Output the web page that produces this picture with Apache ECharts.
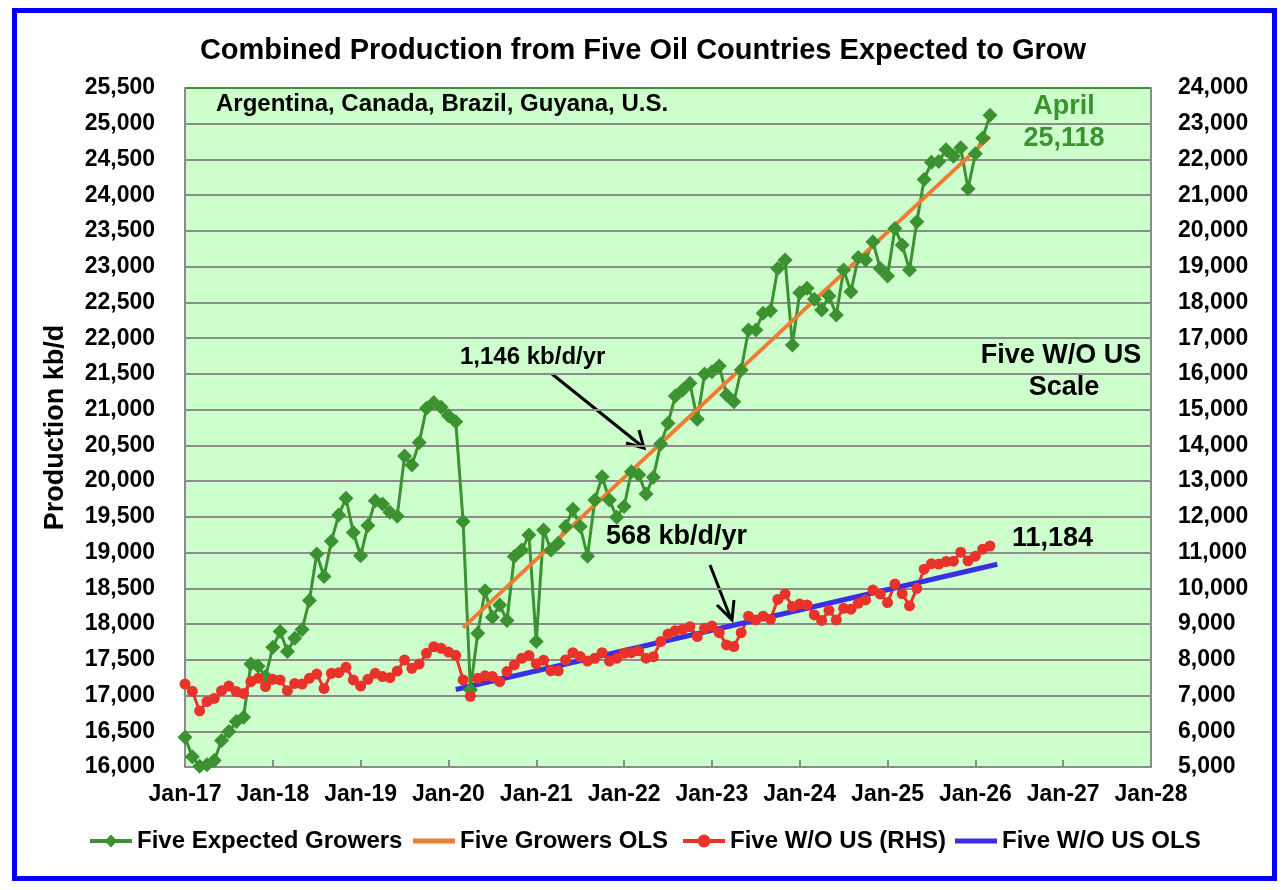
<!DOCTYPE html>
<html>
<head>
<meta charset="utf-8">
<title>Combined Production from Five Oil Countries Expected to Grow</title>
<script src="https://cdn.jsdelivr.net/npm/echarts@6/dist/echarts.min.js"></script>
<style>
html, body { margin: 0; padding: 0; background: #fff; }
#charts { position: absolute; left: 0; top: 0; width: 1286px; height: 890px; }
#frame { position: absolute; left: 12px; top: 8px; width: 1265px; height: 873px; box-sizing: border-box; border: 5px solid #0000ff; pointer-events: none; }
</style>
</head>
<body>
<div id="charts"></div>
<div id="frame"></div>
<script>
// x axis: months counted from Jan-17, one label per January
var xLabels = ['Jan-17', 'Jan-18', 'Jan-19', 'Jan-20', 'Jan-21', 'Jan-22', 'Jan-23', 'Jan-24', 'Jan-25', 'Jan-26', 'Jan-27', 'Jan-28'];

// Five Expected Growers, kb/d, monthly from Jan-17 (left axis)
var growers = [
	16415, 16145, 16010, 16030, 16090, 16370, 16495, 16635, 16695, 17440, 17410, 17265,
	17675, 17895, 17615, 17800, 17925, 18330, 18980, 18665, 19160, 19525, 19760, 19280,
	18955, 19380, 19725, 19680, 19565, 19510, 20350, 20225, 20540, 21020, 21100, 21035,
	20915, 20830, 19435, 17080, 17870, 18465, 18095, 18265, 18050, 18945, 19035, 19245,
	17755, 19315, 19035, 19130, 19365, 19605, 19365, 18950, 19735, 20060, 19735, 19495,
	19645, 20130, 20090, 19820, 20055, 20520, 20810, 21190, 21275, 21370, 20865, 21500,
	21530, 21610, 21205, 21110, 21555, 22115, 22115, 22350, 22385, 22975, 23095, 21905,
	22635, 22700, 22545, 22395, 22590, 22325, 22955, 22650, 23130, 23095, 23350, 22975,
	22870, 23535, 23305, 22955, 23630, 24220, 24460, 24470, 24635, 24545, 24665, 24090,
	24580, 24800, 25118
];

// Five W/O US, kb/d, monthly from Jan-17 (right axis)
var withoutUS = [
	7320, 7120, 6570, 6830, 6920, 7135, 7265, 7110, 7060, 7390, 7480, 7250,
	7455, 7435, 7135, 7340, 7320, 7480, 7600, 7200, 7620, 7640, 7790, 7435,
	7265, 7455, 7620, 7530, 7500, 7685, 7995, 7760, 7880, 8180, 8365, 8320,
	8215, 8125, 7435, 6980, 7480, 7550, 7530, 7390, 7670, 7855, 8040, 8120,
	7890, 7990, 7690, 7690, 7995, 8200, 8090, 7965, 8040, 8200, 7965, 8040,
	8180, 8200, 8250, 8045, 8085, 8510, 8720, 8815, 8850, 8925, 8650, 8880,
	8945, 8760, 8415, 8370, 8760, 9220, 9115, 9220, 9135, 9690, 9840, 9490,
	9560, 9535, 9255, 9100, 9385, 9115, 9440, 9415, 9580, 9675, 9950, 9840,
	9600, 10120, 9850, 9510, 10000, 10535, 10690, 10680, 10750, 10760, 11010, 10770,
	10900, 11095, 11184
];

// trend lines, end points (month index, value)
var growOlsMonths = [38, 110];
var growOlsValues = [17950, 24820];
var exUsOlsMonths = [37, 111];
var exUsOlsValues = [7170, 10675];

var FONT = '"Liberation Sans", Arial, sans-serif';
var GREEN = '#3c9130';
var ORANGE = '#ed7d31';
var RED = '#e9332a';
var BLUE = '#3a2fe3';
var GRID = '#8c8c8c';

function pairs(xs, ys){
	var out = [];
	for(var i = 0; i < ys.length; i++){
		out.push([xs ? xs[i] : i, ys[i]]);
	}
	return out;
}

function thousands(v){
	return Number(v).toLocaleString('en-US');
}

// top gridline is green, the rest grey
var splitColors = [];
for(var i = 0; i < 19; i++){
	splitColors.push(GRID);
}
splitColors.push(GREEN);

var labelStyle = {fontFamily: FONT, fontSize: 23, fontWeight: 'bold', color: '#000'};
var legendText = {fontFamily: FONT, fontSize: 24, fontWeight: 'bold', color: '#000'};

function legendAt(name, left, plainLine){
	var item = plainLine ? {name: name, icon: 'rect'} : {name: name};
	return {
		data: [item], left: left, top: 829, padding: 0,
		itemWidth: 42, itemHeight: plainLine ? 5 : 16, selectedMode: false,
		lineStyle: {width: 4},
		textStyle: legendText
	};
}

function note(text, x, y, size, color, align){
	return {
		type: 'text', x: x, y: y,
		style: {text: text, font: 'bold ' + size + 'px ' + FONT, fill: color || '#000', textAlign: align || 'left', textVerticalAlign: 'middle'}
	};
}

function stroke(points){
	return {type: 'polyline', shape: {points: points}, style: {stroke: '#000', lineWidth: 3, fill: null}};
}

var myChart = echarts.init(document.getElementById('charts'));

var option = {
	animation: false,
	backgroundColor: '#fff',
	title: {
		text: 'Combined Production from Five Oil Countries Expected to Grow',
		left: 'center', top: 31,
		textStyle: {fontFamily: FONT, fontSize: 29, fontWeight: 'bold', color: '#000'}
	},
	grid: {
		left: 185, right: 135, top: 88, bottom: 123,
		show: true, backgroundColor: '#ccffcc', borderWidth: 0,
		containLabel: false, outerBoundsMode: 'none'
	},
	legend: [
		legendAt('Five Expected Growers', 88, false),
		legendAt('Five Growers OLS', 413, true),
		legendAt('Five W/O US (RHS)', 681, false),
		legendAt('Five W/O US OLS', 955, true)
	],
	xAxis: {
		type: 'value', min: 0, max: 132, interval: 12,
		axisLine: {onZero: false, lineStyle: {color: GRID, width: 2}},
		axisTick: {inside: true, length: 7, lineStyle: {color: GRID, width: 2}},
		axisLabel: Object.assign({margin: 16, formatter: function(v){ return xLabels[Math.round(v / 12)]; }}, labelStyle),
		splitLine: {show: false}
	},
	yAxis: [{
		type: 'value', min: 16000, max: 25500, interval: 500, position: 'left',
		name: 'Production kb/d', nameLocation: 'middle', nameGap: 116,
		nameTextStyle: {fontFamily: FONT, fontSize: 27, fontWeight: 'bold', color: '#000'},
		axisLine: {show: true, lineStyle: {color: GRID, width: 2}},
		axisTick: {show: false},
		axisLabel: Object.assign({margin: 30, formatter: thousands}, labelStyle),
		splitLine: {show: true, lineStyle: {color: splitColors, width: 2}}
	}, {
		type: 'value', min: 5000, max: 24000, interval: 1000, position: 'right',
		axisLine: {show: true, lineStyle: {color: GRID, width: 2}},
		axisTick: {show: false},
		axisLabel: Object.assign({margin: 27, formatter: thousands}, labelStyle),
		splitLine: {show: false}
	}],
	series: [{
		name: 'Five Expected Growers', type: 'line',
		data: pairs(null, growers),
		symbol: 'diamond', symbolSize: 15,
		lineStyle: {color: GREEN, width: 3},
		itemStyle: {color: GREEN}
	}, {
		name: 'Five Growers OLS', type: 'line',
		data: pairs(growOlsMonths, growOlsValues),
		symbol: 'none',
		lineStyle: {color: ORANGE, width: 4},
		itemStyle: {color: ORANGE}
	}, {
		name: 'Five W/O US (RHS)', type: 'line', yAxisIndex: 1,
		data: pairs(null, withoutUS),
		symbol: 'circle', symbolSize: 11,
		lineStyle: {color: RED, width: 3},
		itemStyle: {color: RED}
	}, {
		name: 'Five W/O US OLS', type: 'line', yAxisIndex: 1,
		data: pairs(exUsOlsMonths, exUsOlsValues),
		symbol: 'none',
		lineStyle: {color: BLUE, width: 5},
		itemStyle: {color: BLUE}
	}],
	graphic: [
		note('Argentina, Canada, Brazil, Guyana, U.S.', 216, 104, 24),
		note('April', 1064, 107, 27, GREEN, 'center'),
		note('25,118', 1064, 139, 27, GREEN, 'center'),
		note('Five W/O US', 1061, 356, 27, '#000', 'center'),
		note('Scale', 1064, 388, 27, '#000', 'center'),
		note('1,146 kb/d/yr', 460, 357, 24),
		note('568 kb/d/yr', 606, 537, 27),
		note('11,184', 1012, 539, 27),
		// arrows
		stroke([[552, 374], [643, 447]]),
		stroke([[626, 443], [644, 448], [639, 430]]),
		stroke([[710, 565], [731, 619]]),
		stroke([[717, 605], [732, 620], [734, 600]])
	]
};

myChart.setOption(option);
</script>
</body>
</html>
